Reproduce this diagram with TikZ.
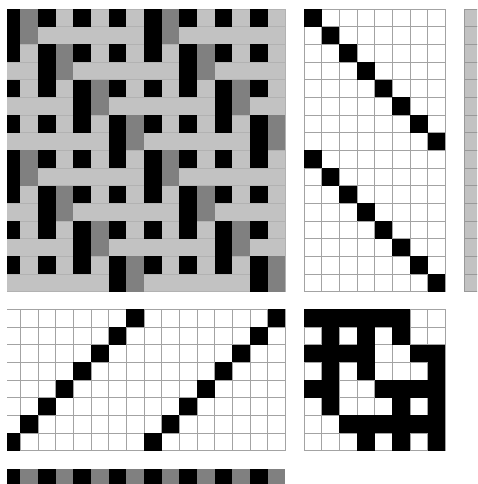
\documentclass[tikz,border=0pt]{standalone}
\usepackage{tikz}

\def\tieup{{1,1,1,1,1,1,0,0, 0,1,0,1,0,1,0,0, 1,1,1,1,0,0,1,1, 0,1,0,1,0,0,0,1, 1,1,0,0,1,1,1,1, 0,1,0,0,0,1,0,1, 0,0,1,1,1,1,1,1, 0,0,0,1,0,1,0,1}}

\begin{document}
\begin{tikzpicture}[
  x=17.67pt, y=-17.67pt,
  gridcell/.style={draw=black!36, line width=0.8pt, fill=white},
  weftband/.style={draw=black!30, line width=0.6pt, fill=weftgray},
  weftcell/.style={draw=black!40, line width=0.8pt, fill=weftgray},
  filled/.style={fill=black},
]
  \definecolor{weftgray}{gray}{0.76}
  \definecolor{warpgray}{gray}{0.5}
  \useasboundingbox (0pt,0pt) rectangle (477pt,-484pt);
  \clip (7pt,0pt) rectangle (477pt,-484pt);
  % drawdown
  \begin{scope}[shift={(2.7pt,-9pt)}]
    \foreach \r in {0,...,15} \draw[weftband] (0,\r) rectangle (16,\r+1);
    \foreach \r in {0,...,15}
      \foreach \c in {0,...,15} {
        \pgfmathtruncatemacro{\lift}{\tieup[8*(7-mod(\c,8))+mod(\r,8)]}
        \pgfmathtruncatemacro{\odd}{mod(\c,2)}
        \ifnum\lift=0
          \ifnum\odd=0 \fill[black] (\c,\r) rectangle (\c+1,\r+1);
          \else \fill[warpgray] (\c,\r) rectangle (\c+1,\r+1);
          \fi
        \fi
      }
  \end{scope}
  % treadling
  \begin{scope}[shift={(304pt,-9pt)}]
    \foreach \r in {0,...,15}
      \foreach \c in {0,...,7} \draw[gridcell] (\c,\r) rectangle (\c+1,\r+1);
    \foreach \r in {0,...,15} {
      \pgfmathtruncatemacro{\c}{mod(\r,8)}
      \fill[filled] (\c,\r) rectangle (\c+1,\r+1);
    }
  \end{scope}
  % weft colours
  \begin{scope}[shift={(464pt,-9pt)}]
    \foreach \r in {0,...,15} \draw[weftcell] (0,\r) rectangle (1,\r+1);
  \end{scope}
  % threading
  \begin{scope}[shift={(2.7pt,-309.4pt)}]
    \foreach \r in {0,...,7}
      \foreach \c in {0,...,15} \draw[gridcell] (\c,\r) rectangle (\c+1,\r+1);
    \foreach \c in {0,...,15} {
      \pgfmathtruncatemacro{\r}{7-mod(\c,8)}
      \fill[filled] (\c,\r) rectangle (\c+1,\r+1);
    }
  \end{scope}
  % tie-up
  \begin{scope}[shift={(304pt,-309.4pt)}]
    \foreach \r in {0,...,7}
      \foreach \c in {0,...,7} \draw[gridcell] (\c,\r) rectangle (\c+1,\r+1);
    \foreach \r in {0,...,7}
      \foreach \c in {0,...,7} {
        \pgfmathtruncatemacro{\tied}{\tieup[8*\r+\c]}
        \ifnum\tied=1
          \fill[filled] (\c,\r) rectangle (\c+1,\r+1);
        \fi
      }
  \end{scope}
  % warp colours
  \begin{scope}[shift={(2.7pt,-468.6pt)}]
    \foreach \c in {0,2,...,14} \fill[black] (\c,0) rectangle (\c+1,1);
    \foreach \c in {1,3,...,15} \fill[warpgray] (\c,0) rectangle (\c+1,1);
  \end{scope}
\end{tikzpicture}
\end{document}
